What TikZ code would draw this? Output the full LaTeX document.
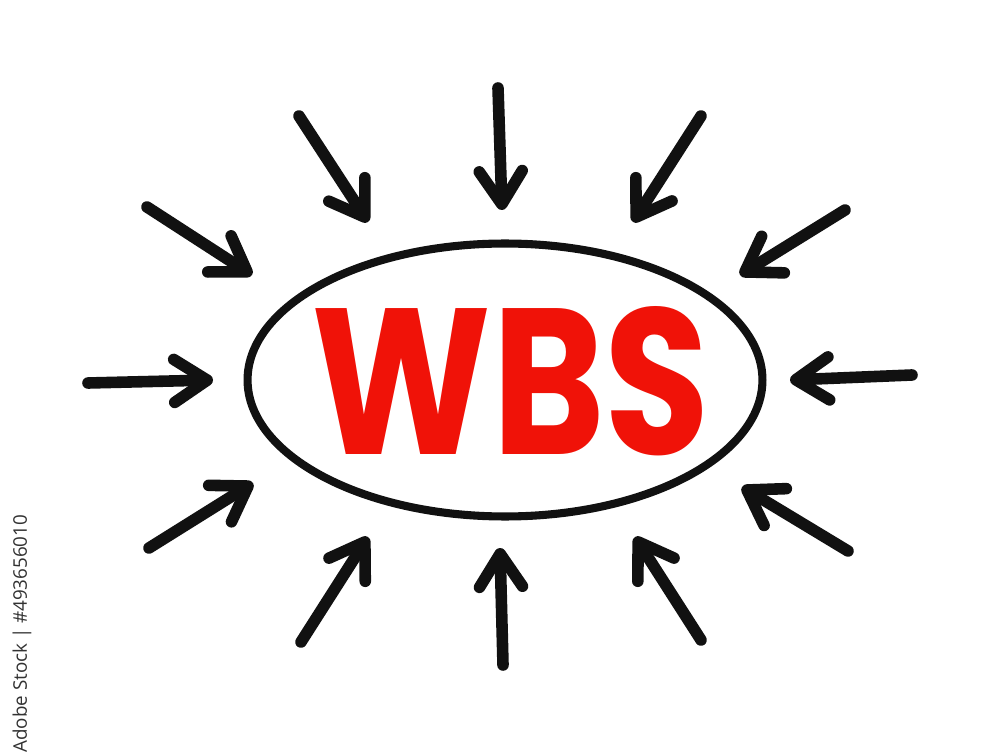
\documentclass[tikz,border=0pt]{standalone}
\usepackage{fontspec}
\usetikzlibrary{arrows.meta,shapes.geometric}
\newfontfamily\wbsfont{Poppins}
\newfontfamily\stockfont{Open Sans}
\definecolor{wbsred}{RGB}{240,18,8}
\definecolor{ink}{RGB}{17,17,17}
\definecolor{stockgray}{RGB}{50,50,50}
\tikzset{
  arr/.style={draw=ink, line width=6.6pt, line cap=round,
    -{Straight Barb[length=0.66cm,width=0.86cm,round]}},
  ovalbox/.style={draw=ink, ellipse, line width=4.6pt, inner sep=0pt,
    minimum width=10.3cm, minimum height=5.46cm},
  stocklbl/.style={text=stockgray, font=\stockfont\fontsize{10.7}{11}\selectfont,
    rotate=90, inner sep=0pt}
}
\begin{document}
\begin{tikzpicture}[x=0.02cm,y=-0.02cm]
\useasboundingbox (0,0) rectangle (1000,756);
\fill[white] (0,0) rectangle (1000,756);
\node[ovalbox] (oval) at (505,380) {};
\node[inner sep=0pt, text=wbsred] (wbs) at (511,381)
  {\resizebox{7.96cm}{2.96cm}{\wbsfont\bfseries WBS}};
% arrow tails and tips
\coordinate (t1) at (299,116);  \coordinate (h1) at (368,222);
\coordinate (t2) at (498,88);   \coordinate (h2) at (502,210);
\coordinate (t3) at (701,116);  \coordinate (h3) at (633,222);
\coordinate (t4) at (845,210);  \coordinate (h4) at (740,275);
\coordinate (t5) at (912,375);  \coordinate (h5) at (790,380);
\coordinate (t6) at (848,551);  \coordinate (h6) at (742,487);
\coordinate (t7) at (701,640);  \coordinate (h7) at (635,537);
\coordinate (t8) at (503,665);  \coordinate (h8) at (500,548);
\coordinate (t9) at (301,642);  \coordinate (h9) at (368,537);
\coordinate (t10) at (149,548); \coordinate (h10) at (253,483);
\coordinate (t11) at (88,383);  \coordinate (h11) at (213,380);
\coordinate (t12) at (147,207); \coordinate (h12) at (252,275);
\foreach \i in {1,...,12} {\draw[arr] (t\i) -- (h\i);}
\node[stocklbl, anchor=west] (stock) at (22,753) {Adobe Stock | \#493656010};
\end{tikzpicture}
\end{document}
